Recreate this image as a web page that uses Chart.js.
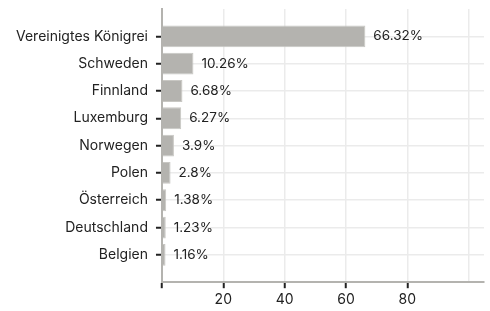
<!DOCTYPE html>
<html>
<head>
<meta charset="utf-8">
<script src="https://cdn.jsdelivr.net/npm/chart.js@4"></script>
<style>
  html, body { margin: 0; padding: 0; background: #fff; }
  #wrap { position: relative; width: 490px; height: 311px; }
</style>
</head>
<body>
<div id="wrap"><canvas id="chart"></canvas></div>
<script>
// Daten
const countries = ["Vereinigtes Königrei", "Schweden", "Finnland", "Luxemburg", "Norwegen",
                   "Polen", "Österreich", "Deutschland", "Belgien"];
const shares = [66.32, 10.26, 6.68, 6.27, 3.9, 2.8, 1.38, 1.23, 1.16];
const xTicks = [0, 20, 40, 60, 80, 100];
const xMax = 105;

const FONT = "Inter, 'Noto Sans', sans-serif";

// Prozentwerte rechts neben die Balken schreiben
const valueLabels = {
  id: "valueLabels",
  afterDatasetsDraw(chart) {
    const { ctx } = chart;
    const meta = chart.getDatasetMeta(0);
    ctx.save();
    ctx.font = "13.5px " + FONT;
    ctx.fillStyle = "#222";
    ctx.textBaseline = "middle";
    ctx.textAlign = "left";
    meta.data.forEach((bar, i) => {
      ctx.fillText(shares[i] + "%", bar.x + 8, bar.y);
    });
    ctx.restore();
  }
};

new Chart(document.getElementById("chart"), {
  type: "bar",
  data: {
    labels: countries,
    datasets: [{
      data: shares,
      backgroundColor: "#b4b3af",
      borderColor: "#c8c7c3",
      borderWidth: 1,
      barPercentage: 0.8,
      categoryPercentage: 1.0,
    }],
  },
  options: {
    indexAxis: "y",
    responsive: true,
    maintainAspectRatio: false,
    animation: false,
    layout: { padding: { top: 9, right: 6, left: 8, bottom: 0 } },
    plugins: {
      legend: { display: false },
      tooltip: { enabled: false },
    },
    scales: {
      x: {
        min: 0,
        max: xMax,
        afterBuildTicks: s => { s.ticks = xTicks.map(v => ({ value: v })); },
        grid: {
          color: ctx => ctx.tick && ctx.tick.value === 0 ? "rgba(0,0,0,0)" : "#ebebeb",
          tickColor: ctx => ctx.tick && ctx.tick.value === 100 ? "rgba(0,0,0,0)" : "#222",
          tickLength: 6,
          tickWidth: 2,
          lineWidth: 1.5,
        },
        border: { color: "#b4b3af", width: 2 },
        ticks: {
          font: { family: FONT, size: 14 },
          color: "#222",
          padding: 3,
          maxRotation: 0,
          callback: v => (v === 0 || v === 100) ? "" : v,
        },
      },
      y: {
        // eine volle Kategorie Abstand oben und unten
        afterBuildTicks: s => { s._startValue = -1; s._valueRange = countries.length + 1; },
        afterFit: s => { s.paddingTop = 0; s.paddingBottom = 0; },
        grid: {
          offset: false,
          color: "#ebebeb",
          lineWidth: 1.5,
          tickColor: "#222",
          tickLength: 6,
          tickWidth: 2,
        },
        border: { color: "#b4b3af", width: 2 },
        ticks: {
          font: { family: FONT, size: 14 },
          color: "#222",
          padding: 8,
          autoSkip: false,
        },
      },
    },
  },
  plugins: [valueLabels],
});
</script>
</body>
</html>
